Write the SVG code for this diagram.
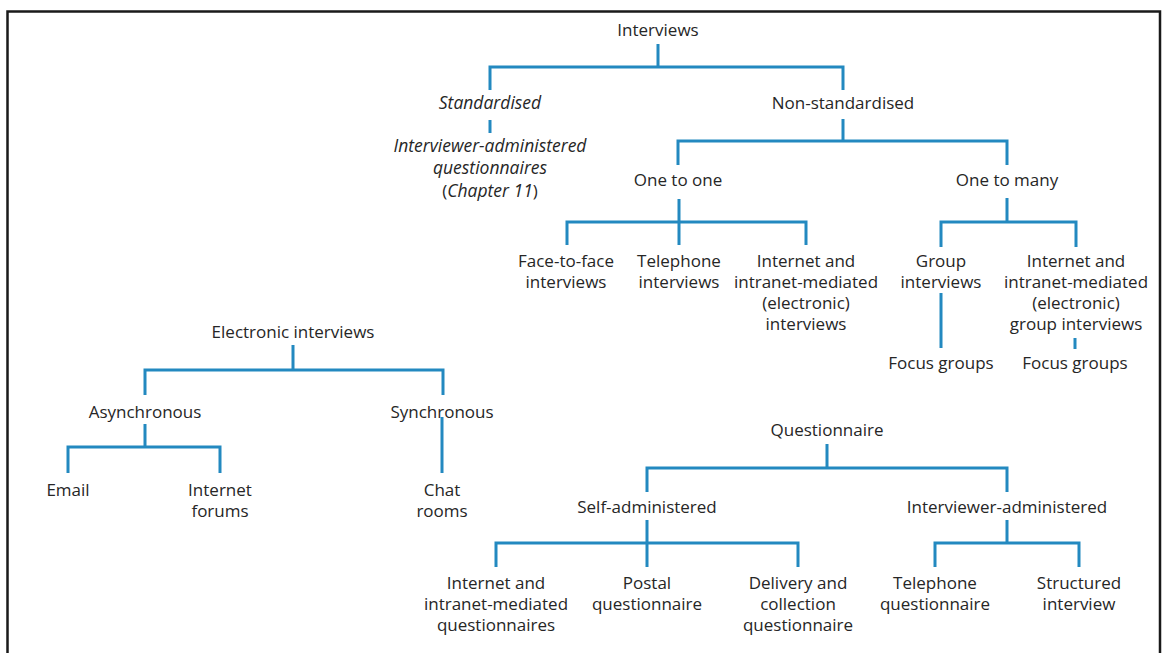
<svg xmlns="http://www.w3.org/2000/svg" width="1166" height="653" viewBox="0 0 1166 653">
<style>
text{font-family:"Open Sans","Liberation Sans",sans-serif;font-size:17px;fill:#262626;text-anchor:middle}
.it{font-style:italic;font-size:17.5px}
.c{fill:none;stroke:#2389c0;stroke-width:3;stroke-linecap:butt;stroke-linejoin:miter}
.frame{fill:none;stroke:#1a1a1a;stroke-width:2.5}
</style>
<rect width="1166" height="653" fill="#fff"/>
<path class="frame" d="M7.5,660 V11.5 H1160 V660"/>
<g id="connectors">
<path class="c" d="M658,44 V67 M490,90 V67 H843 V90"/>
<path class="c" d="M490,120 V133"/>
<path class="c" d="M843,119 V141 M678,165 V141 H1007 V165"/>
<path class="c" d="M679,199 V245 M567,245 V222 H806 V245"/>
<path class="c" d="M1007,198 V222 M941,247 V222 H1076 V247"/>
<path class="c" d="M941,293 V348 M1075,338 V349"/>
<path class="c" d="M293,345 V370 M145,395 V370 H443 V395"/>
<path class="c" d="M145,424 V447 M68,473 V447 H220 V473"/>
<path class="c" d="M442,417 V473"/>
<path class="c" d="M827,444 V468 M647,492 V468 H1007 V492"/>
<path class="c" d="M647,520 V567 M496,567 V543 H798 V567"/>
<path class="c" d="M1007,520 V543 M935,567 V543 H1079 V567"/>
</g>
<g id="n-interviews"><text x="658" y="36">Interviews</text></g>
<g id="n-standardised"><text class="it" x="490" y="109">Standardised</text></g>
<g id="n-iaq"><text x="490" y="152"><tspan class="it">Interviewer-administered</tspan><tspan x="490" dy="22" class="it">questionnaires</tspan><tspan x="490" dy="22.5">(</tspan><tspan class="it">Chapter 11</tspan><tspan>)</tspan></text></g>
<g id="n-nonstd"><text x="843" y="109">Non-standardised</text></g>
<g id="n-one2one"><text x="678" y="186">One to one</text></g>
<g id="n-one2many"><text x="1007" y="186">One to many</text></g>
<g id="n-f2f"><text x="566" y="267">Face-to-face<tspan x="566" dy="21">interviews</tspan></text></g>
<g id="n-tel"><text x="679" y="267">Telephone<tspan x="679" dy="21">interviews</tspan></text></g>
<g id="n-iimi"><text x="806" y="267">Internet and<tspan x="806" dy="21">intranet-mediated</tspan><tspan x="806" dy="21">(electronic)</tspan><tspan x="806" dy="21">interviews</tspan></text></g>
<g id="n-group"><text x="941" y="267">Group<tspan x="941" dy="21">interviews</tspan></text></g>
<g id="n-iimgi"><text x="1076" y="267">Internet and<tspan x="1076" dy="21">intranet-mediated</tspan><tspan x="1076" dy="21">(electronic)</tspan><tspan x="1076" dy="21">group interviews</tspan></text></g>
<g id="n-fg1"><text x="941" y="369">Focus groups</text></g>
<g id="n-fg2"><text x="1075" y="369">Focus groups</text></g>
<g id="n-elec"><text x="293" y="338">Electronic interviews</text></g>
<g id="n-async"><text x="145" y="418">Asynchronous</text></g>
<g id="n-sync"><text x="442" y="418">Synchronous</text></g>
<g id="n-email"><text x="68" y="496">Email</text></g>
<g id="n-forums"><text x="220" y="496">Internet<tspan x="220" dy="21">forums</tspan></text></g>
<g id="n-chat"><text x="442" y="496">Chat<tspan x="442" dy="21">rooms</tspan></text></g>
<g id="n-quest"><text x="827" y="436">Questionnaire</text></g>
<g id="n-self"><text x="647" y="513">Self-administered</text></g>
<g id="n-intadm"><text x="1007" y="513">Interviewer-administered</text></g>
<g id="n-iimq"><text x="496" y="589">Internet and<tspan x="496" dy="21">intranet-mediated</tspan><tspan x="496" dy="21">questionnaires</tspan></text></g>
<g id="n-postal"><text x="647" y="589">Postal<tspan x="647" dy="21">questionnaire</tspan></text></g>
<g id="n-deliv"><text x="798" y="589">Delivery and<tspan x="798" dy="21">collection</tspan><tspan x="798" dy="21">questionnaire</tspan></text></g>
<g id="n-telq"><text x="935" y="589">Telephone<tspan x="935" dy="21">questionnaire</tspan></text></g>
<g id="n-struct"><text x="1079" y="589">Structured<tspan x="1079" dy="21">interview</tspan></text></g>
</svg>
